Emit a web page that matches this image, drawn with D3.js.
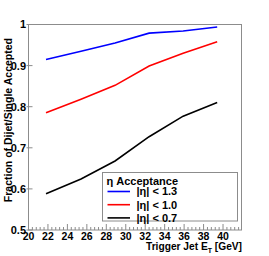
<!DOCTYPE html>
<html>
<head>
<meta charset="utf-8">
<script src="https://cdn.jsdelivr.net/npm/d3@7/dist/d3.min.js"></script>
<style>
  body { margin: 0; background: #fff; }
  text { font-family: "Liberation Sans", Arial, sans-serif; font-weight: bold; fill: #000; }
</style>
</head>
<body>
<svg id="chart" width="269" height="256"></svg>
<script>
// trigger jet ET bins (GeV)
var jetEt = [21.8, 25.4, 28.9, 32.4, 35.9, 39.4];

var seriesNames = ["|\u03b7| < 1.3", "|\u03b7| < 1.0", "|\u03b7| < 0.7"];
var eta13 = [0.915, 0.935, 0.955, 0.979, 0.984, 0.994];
var eta10 = [0.785, 0.818, 0.852, 0.899, 0.930, 0.958];
var eta07 = [0.588, 0.624, 0.668, 0.727, 0.777, 0.810];

var xTicks = [20, 22, 24, 26, 28, 30, 32, 34, 36, 38, 40];
var yTicks = [0.5, 0.6, 0.7, 0.8, 0.9, 1];

var svg = d3.select("#chart"),
    margin = { left: 28.5, top: 24.5, right: 27.5, bottom: 26 },
    width = 269 - margin.left - margin.right,
    height = 256 - margin.top - margin.bottom,
    frameColor = "#8c8c8c";

var x = d3.scaleLinear().domain([20, 41.9]).range([0, width]),
    y = d3.scaleLinear().domain([0.5, 1]).range([height, 0]);

var g = svg.append("g")
    .attr("transform", "translate(" + margin.left + "," + margin.top + ")");

// frame
g.append("rect")
    .attr("width", width)
    .attr("height", height)
    .attr("fill", "none")
    .attr("stroke", frameColor)
    .attr("stroke-width", 1);

// x axis ticks, pointing inward
var xMinor = d3.range(20, 41.9, 0.4);
g.selectAll(".xminor").data(xMinor).enter().append("line")
    .attr("x1", function(d) { return x(d); })
    .attr("x2", function(d) { return x(d); })
    .attr("y1", height)
    .attr("y2", function(d, i) { return height - (i % 5 === 0 ? 6 : 3); })
    .attr("stroke", frameColor);

g.selectAll(".xlab").data(xTicks).enter().append("text")
    .attr("x", function(d) { return x(d); })
    .attr("y", height + 10)
    .attr("text-anchor", "middle")
    .attr("font-size", 10.5)
    .text(function(d) { return d; });

// y axis ticks
g.selectAll(".ytick").data(yTicks).enter().append("line")
    .attr("x1", -2)
    .attr("x2", 4)
    .attr("y1", function(d) { return y(d); })
    .attr("y2", function(d) { return y(d); })
    .attr("stroke", frameColor);

g.selectAll(".ylab").data(yTicks).enter().append("text")
    .attr("x", -2.5)
    .attr("y", function(d) { return y(d); })
    .attr("dy", "0.36em")
    .attr("text-anchor", "end")
    .attr("font-size", 11)
    .text(function(d) { return d3.format("~g")(d); });

// axis titles
var xt = g.append("text")
    .attr("x", width + 0.5)
    .attr("y", height + 19.5)
    .attr("text-anchor", "end")
    .attr("font-size", 10.2);
xt.append("tspan").text("Trigger Jet E");
xt.append("tspan").attr("font-size", 7).attr("dy", 3).text("T");
xt.append("tspan").attr("dy", -3).text(" [GeV]");

svg.append("text")
    .attr("transform", "translate(12,38) rotate(-90)")
    .attr("text-anchor", "end")
    .attr("font-size", 10.5)
    .text("Fraction of Dijet/Single Accepted");

// series lines
var series = [
    { name: seriesNames[0], values: eta13, color: "#0000ff" },
    { name: seriesNames[1], values: eta10, color: "#ff0000" },
    { name: seriesNames[2], values: eta07, color: "#000000" }
];

var line = d3.line()
    .x(function(d, i) { return x(jetEt[i]); })
    .y(function(d) { return y(d); });

g.selectAll(".series").data(series).enter().append("path")
    .attr("d", function(s) { return line(s.values); })
    .attr("fill", "none")
    .attr("stroke", function(s) { return s.color; })
    .attr("stroke-width", 1.6);

// legend
var legend = svg.append("g").attr("transform", "translate(102.5,172.5)");
legend.append("rect")
    .attr("width", 135)
    .attr("height", 48.5)
    .attr("fill", "#fff")
    .attr("stroke", frameColor);
legend.append("text")
    .attr("x", 4)
    .attr("y", 9)
    .attr("dy", "0.36em")
    .attr("font-size", 11)
    .text("\u03b7 Acceptance");

var entry = legend.selectAll(".entry").data(series).enter().append("g")
    .attr("transform", function(d, i) { return "translate(0," + (19 + i * 13.2) + ")"; });
entry.append("line")
    .attr("x1", 5).attr("x2", 27.5)
    .attr("stroke", function(d) { return d.color; })
    .attr("stroke-width", 1.6);
entry.append("text")
    .attr("x", 34)
    .attr("dy", "0.36em")
    .attr("font-size", 11)
    .text(function(d) { return d.name; });
</script>
</body>
</html>
